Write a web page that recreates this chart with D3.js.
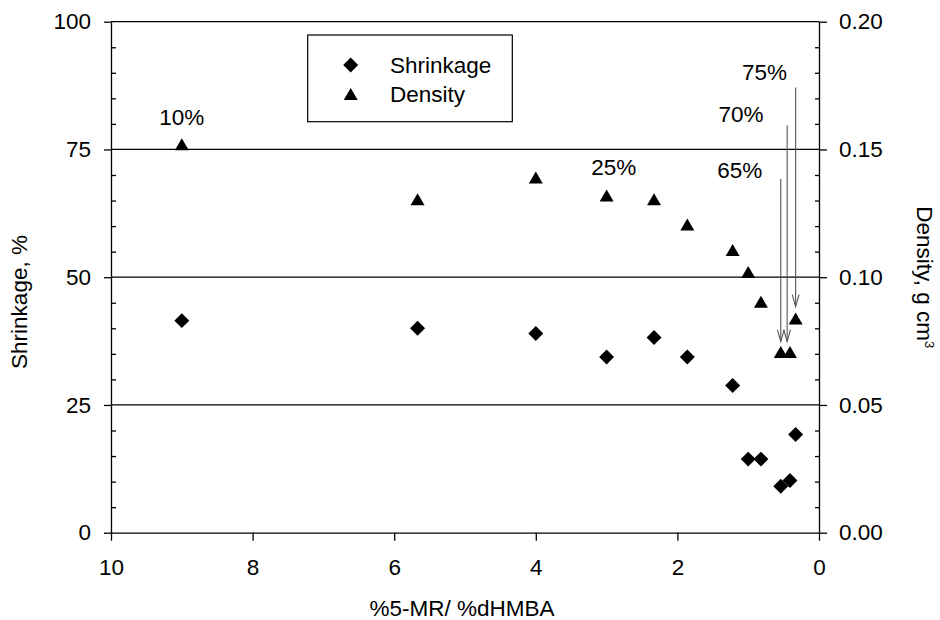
<!DOCTYPE html>
<html>
<head>
<meta charset="utf-8">
<script src="https://cdn.jsdelivr.net/npm/d3@7"></script>
<style>
  html, body { margin: 0; padding: 0; background: #fff; }
  svg { display: block; font-family: "Liberation Sans", Arial, Helvetica, sans-serif; }
  .axis path, .axis line { stroke: #000; stroke-width: 1.3; }
  .axis text { fill: #000; font-size: 22.5px; font-family: "Liberation Sans", Arial, sans-serif; }
</style>
</head>
<body>
<svg id="chart" width="940" height="620"></svg>
<script>
// Molar ratio of 5-MR to dHMBA for each gel
const ratio     = [9, 5.67, 4, 3, 2.33, 1.86, 1.22, 1.0, 0.82, 0.54, 0.41, 0.33];
// Shrinkage (%) on the left axis
const shrinkage = [41.5, 40.0, 39.0, 34.4, 38.2, 34.4, 28.8, 14.4, 14.4, 9.1, 10.2, 19.2];
// Bulk density (g cm^-3) on the right axis
const density   = [0.152, 0.1305, 0.139, 0.132, 0.1305, 0.1206, 0.1106, 0.102, 0.0904, 0.0707, 0.0707, 0.0838];

// Axis ticks
const xTicks      = [10, 8, 6, 4, 2, 0];
const leftTicks   = [0, 25, 50, 75, 100];
const leftMinor   = [5, 10, 15, 20, 30, 35, 40, 45, 55, 60, 65, 70, 80, 85, 90, 95];
const rightTicks  = [0, 0.05, 0.10, 0.15, 0.20];
const rightMinor  = [0.01, 0.02, 0.03, 0.04, 0.06, 0.07, 0.08, 0.09, 0.11, 0.12, 0.13, 0.14, 0.16, 0.17, 0.18, 0.19];

// Percentage labels: text, ratio position, density position of the baseline
const noteText    = ["10%", "25%", "65%", "70%", "75%"];
const noteX       = [9.0, 2.9, 1.12, 1.1, 0.77];
const noteY       = [0.1596, 0.140, 0.1388, 0.1609, 0.1772];

// Pointer arrows: ratio position, start and end density
const arrowX      = [0.54, 0.45, 0.33];
const arrowFrom   = [0.1384, 0.1595, 0.1742];
const arrowTo     = [0.0748, 0.0748, 0.0885];

const svg = d3.select("#chart");
const plotL = 111, plotR = 819, plotT = 21.7, plotB = 532.7;

const x  = d3.scaleLinear().domain([10, 0]).range([plotL, plotR]);
const yL = d3.scaleLinear().domain([0, 100]).range([plotB, plotT]);
const yR = d3.scaleLinear().domain([0, 0.20]).range([plotB, plotT]);

// horizontal reference lines at the major shrinkage ticks
svg.append("g").selectAll("line").data(leftTicks.filter(d => d > 0)).join("line")
  .attr("x1", plotL).attr("x2", plotR)
  .attr("y1", d => yL(d)).attr("y2", d => yL(d))
  .attr("stroke", "#000").attr("stroke-width", 1.3);

// left axis: majors outward with labels, minors inward
svg.append("g").attr("class", "axis").attr("transform", `translate(${plotL},0)`)
  .call(d3.axisLeft(yL).tickValues(leftTicks).tickSize(7).tickPadding(13).tickSizeOuter(0));
svg.append("g").attr("class", "axis").attr("transform", `translate(${plotL},0)`)
  .call(d3.axisLeft(yL).tickValues(leftMinor).tickSize(-5).tickFormat("").tickSizeOuter(0))
  .select(".domain").remove();

// right axis
svg.append("g").attr("class", "axis").attr("transform", `translate(${plotR},0)`)
  .call(d3.axisRight(yR).tickValues(rightTicks).tickSize(8).tickPadding(12).tickSizeOuter(0)
    .tickFormat(d3.format(".2f")));
svg.append("g").attr("class", "axis").attr("transform", `translate(${plotR},0)`)
  .call(d3.axisRight(yR).tickValues(rightMinor).tickSize(-4).tickFormat("").tickSizeOuter(0))
  .select(".domain").remove();

// bottom axis
svg.append("g").attr("class", "axis").attr("transform", `translate(0,${plotB})`)
  .call(d3.axisBottom(x).tickValues(xTicks).tickSize(8).tickPadding(18).tickSizeOuter(0)
    .tickFormat(d3.format("d")));

// axis titles
svg.append("text")
  .attr("transform", `translate(${(plotL + plotR) / 2 - 3},616)`)
  .attr("text-anchor", "middle").attr("font-size", 22.5)
  .text("%5-MR/ %dHMBA");

svg.append("text")
  .attr("transform", `translate(27,302) rotate(-90)`)
  .attr("text-anchor", "middle").attr("font-size", 22.5)
  .text("Shrinkage, %");

const rt = svg.append("text")
  .attr("transform", `translate(917,${(plotT + plotB) / 2}) rotate(90)`)
  .attr("text-anchor", "middle").attr("font-size", 22.5);
rt.append("tspan").text("Density, g cm");
rt.append("tspan").attr("font-size", 13).attr("dy", -8).text("3");

// marker shapes
const diamond = d3.symbol().type(d3.symbolSquare).size(112);
const triPath = (cx, cy) => `M${cx},${cy - 6}L${cx + 7},${cy + 6}L${cx - 7},${cy + 6}Z`;

// shrinkage points
svg.append("g").selectAll("path").data(ratio).join("path")
  .attr("d", diamond())
  .attr("transform", (d, i) => `translate(${x(d)},${yL(shrinkage[i])}) rotate(45)`)
  .attr("fill", "#000");

// density points
svg.append("g").selectAll("path").data(ratio).join("path")
  .attr("d", (d, i) => triPath(x(d), yR(density[i])))
  .attr("fill", "#000");

// pointer arrows with open heads
const ag = svg.append("g").attr("stroke", "#555").attr("stroke-width", 1.1).attr("fill", "none");
arrowX.forEach((ax, i) => {
  const px = x(ax), y0 = yR(arrowFrom[i]), y1 = yR(arrowTo[i]);
  ag.append("line").attr("x1", px).attr("x2", px).attr("y1", y0).attr("y2", y1);
  ag.append("path").attr("d", `M${px - 3.4},${y1 - 12}L${px},${y1}L${px + 3.4},${y1 - 12}`);
});

// percentage notes
svg.append("g").selectAll("text").data(noteText).join("text")
  .attr("x", (d, i) => x(noteX[i])).attr("y", (d, i) => yR(noteY[i]))
  .attr("text-anchor", "middle").attr("font-size", 22.5)
  .text(d => d);

// legend
const lg = svg.append("g");
lg.append("rect").attr("x", 307.7).attr("y", 35).attr("width", 204.6).attr("height", 86.7)
  .attr("fill", "#fff").attr("stroke", "#000").attr("stroke-width", 1.2);
lg.append("path").attr("d", diamond()).attr("transform", "translate(350.7,65) rotate(45)").attr("fill", "#000");
lg.append("path").attr("d", triPath(350.7, 94)).attr("fill", "#000");
lg.append("text").attr("x", 390).attr("y", 73).attr("font-size", 22.5).text("Shrinkage");
lg.append("text").attr("x", 390).attr("y", 102).attr("font-size", 22.5).text("Density");
</script>
</body>
</html>
